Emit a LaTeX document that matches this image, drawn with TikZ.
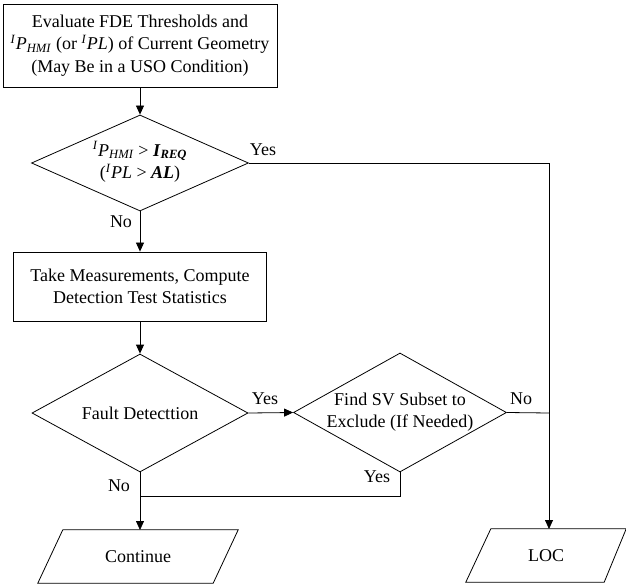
\documentclass[tikz,border=0pt]{standalone}
\usepackage{fontspec}
\setmainfont{Liberation Serif}
\usetikzlibrary{shapes.geometric,arrows.meta,calc}
\begin{document}
\begin{tikzpicture}[x=1pt,y=-1pt,
  every node/.style={font=\fontsize{18}{22.5}\selectfont},
  box/.style={draw,line width=0.8pt,align=center,inner sep=0pt},
  dia/.style={draw,diamond,line width=0.8pt,inner sep=0pt},
  txt/.style={align=center,inner sep=0pt},
  io/.style={inner sep=0pt,align=center},
  conn/.style={line width=0.8pt},
  arr/.style={line width=0.8pt,-{Triangle[length=9pt,width=8pt]}}]
\useasboundingbox (0,0) rectangle (626,585);
\node[box,minimum width=274pt,minimum height=83pt] (top) at (140,45.5)
  {Evaluate FDE Thresholds and\\
   \textsuperscript{\textit{I}}\textit{P}\textsubscript{\textit{HMI}} (or \textsuperscript{\textit{I}}\textit{PL}) of Current Geometry\\
   (May Be in a USO Condition)};
\node[dia,minimum width=217pt,minimum height=96pt] (d1) at (140,163) {};
\node[txt] (d1t) at (140,162)
  {\textsuperscript{\textit{I}}\textit{P}\textsubscript{\textit{HMI}} > \textbf{\textit{I}\textsubscript{\textit{REQ}}}\\
   (\textsuperscript{\textit{I}}\textit{PL} > \textbf{\textit{AL}})};
\node[box,minimum width=253pt,minimum height=69pt] (meas) at (140,286.5)
  {Take Measurements, Compute\\Detection Test Statistics};
\node[dia,minimum width=216pt,minimum height=118pt] (d2) at (140,413) {};
\node[txt] (d2t) at (140,413) {Fault Detecttion};
\node[dia,minimum width=213pt,minimum height=119pt] (d3) at (400,412.5) {};
\node[txt] (d3t) at (400,412) {Find SV Subset to\\Exclude (If Needed)};
\node[io,minimum width=200pt,minimum height=53pt] (cont) at (138,556.5) {Continue};
\draw[conn] ($(cont.north west)+(25,0)$) -- (cont.north east)
  -- ($(cont.south east)-(25,0)$) -- (cont.south west) -- cycle;
\node[io,minimum width=160pt,minimum height=53pt] (loc) at (546,555.5) {LOC};
\draw[conn] ($(loc.north west)+(25,0)$) -- (loc.north east)
  -- ($(loc.south east)-(22,0)$) -- (loc.south west) -- cycle;
\coordinate (c1) at (549,163);
\coordinate (c3) at (549,413);
\coordinate (j1) at (400,496);
\coordinate (j2) at (140,496);
\coordinate (locT) at (549,529);
\coordinate (contT) at (140,530);
\draw[arr] (top.south) -- (d1.north);
\draw[arr] (d1.east) -- (c1) -- (locT);
\draw[arr] (d1.south) -- (meas.north);
\draw[arr] (meas.south) -- (d2.north);
\draw[arr] (d2.east) -- (d3.west);
\draw[conn] (d3.east) -- (c3);
\draw[conn] (d3.south) -- (j1) -- (j2);
\draw[arr] (d2.south) -- (contT);
\node[txt] (y1) at (263,150) {Yes};
\node[txt] (n1) at (121,222) {No};
\node[txt] (y2) at (265,399) {Yes};
\node[txt] (n2) at (119,486) {No};
\node[txt] (y3) at (377,477) {Yes};
\node[txt] (n3) at (521,399) {No};
\end{tikzpicture}
\end{document}
